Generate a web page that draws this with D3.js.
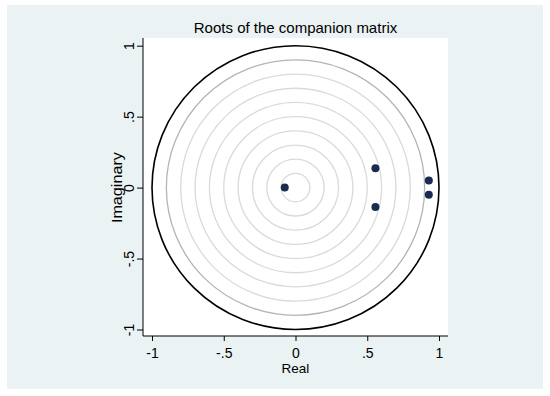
<!DOCTYPE html>
<html>
<head>
<meta charset="utf-8">
<script src="https://cdn.jsdelivr.net/npm/d3@7"></script>
<style>
  body { margin: 0; background: #fff; }
  text { font-family: "Liberation Sans", Arial, sans-serif; fill: #000; }
  .tick text { font-size: 14px; }
</style>
</head>
<body>
<script>
var width = 550,
    height = 396;

// eigenvalues
var realPart = [-0.075, 0.557, 0.557, 0.929, 0.929];
var imagPart = [0, 0.137, -0.137, 0.05, -0.05];
var tickVals = [-1, -0.5, 0, 0.5, 1];
var tickText = ["-1", "-.5", "0", ".5", "1"];
var gridRadii = [0.1, 0.2, 0.3, 0.4, 0.5, 0.6, 0.7, 0.8, 0.9];

var roots = realPart.map(function(r, i){ return {re: r, im: imagPart[i]}; });

var plotL = 143, plotR = 448, plotT = 38, plotB = 336;

var x = d3.scaleLinear().domain([-1, 1]).range([152, 439]);
var y = d3.scaleLinear().domain([-1, 1]).range([329.5, 45.7]);

var svg = d3.select("body")
            .append("svg")
            .attr("width", width)
            .attr("height", height);

svg.append("rect")
   .attr("x", 7).attr("y", 5)
   .attr("width", 536).attr("height", 384)
   .attr("fill", "#eaf2f3");

svg.append("rect")
   .attr("x", plotL).attr("y", plotT)
   .attr("width", plotR - plotL).attr("height", plotB - plotT)
   .attr("fill", "#fff");

// reference circles
svg.append("g").selectAll("ellipse")
   .data(gridRadii)
   .enter()
   .append("ellipse")
   .attr("cx", x(0)).attr("cy", y(0))
   .attr("rx", function(d){ return x(d) - x(0); })
   .attr("ry", function(d){ return y(0) - y(d); })
   .attr("fill", "none")
   .attr("stroke", function(d){ return d === 0.9 ? "#b4b4b4" : "#dadada"; })
   .attr("stroke-width", 1.3);

// unit circle
svg.append("ellipse")
   .attr("cx", x(0)).attr("cy", y(0))
   .attr("rx", x(1) - x(0))
   .attr("ry", y(0) - y(1))
   .attr("fill", "none")
   .attr("stroke", "#000")
   .attr("stroke-width", 1.6);

svg.append("g").selectAll("circle")
   .data(roots)
   .enter()
   .append("circle")
   .attr("cx", function(d){ return x(d.re); })
   .attr("cy", function(d){ return y(d.im); })
   .attr("r", 4)
   .attr("fill", "#1a2b50");

// axes
var xAxis = d3.axisBottom(x).tickValues(tickVals)
              .tickFormat(function(d, i){ return tickText[i]; })
              .tickSize(5).tickSizeOuter(0);
var gx = svg.append("g").attr("transform", "translate(0," + plotB + ")").call(xAxis);
gx.select(".domain").remove();
gx.append("line").attr("x1", plotL).attr("x2", plotR)
  .attr("stroke", "#000");
gx.selectAll(".tick text").attr("dy", null).attr("y", 22);

var yAxis = d3.axisLeft(y).tickValues(tickVals)
              .tickFormat(function(d, i){ return tickText[i]; })
              .tickSize(6).tickSizeOuter(0);
var gy = svg.append("g").attr("transform", "translate(" + plotL + ",0)").call(yAxis);
gy.select(".domain").remove();
gy.append("line").attr("y1", plotT).attr("y2", plotB)
  .attr("stroke", "#000");
gy.selectAll(".tick text")
  .attr("x", null).attr("dy", null)
  .attr("text-anchor", "middle")
  .attr("transform", "translate(-9,0) rotate(-90)");

svg.append("text")
   .attr("x", x(0)).attr("y", 373)
   .attr("text-anchor", "middle")
   .attr("font-size", 13.5)
   .text("Real");

svg.append("text")
   .attr("transform", "translate(122," + y(0) + ") rotate(-90)")
   .attr("text-anchor", "middle")
   .attr("font-size", 14.5)
   .attr("textLength", 71)
   .attr("lengthAdjust", "spacingAndGlyphs")
   .text("Imaginary");

svg.append("text")
   .attr("x", x(0)).attr("y", 33)
   .attr("text-anchor", "middle")
   .attr("font-size", 15)
   .text("Roots of the companion matrix");
</script>
</body>
</html>
